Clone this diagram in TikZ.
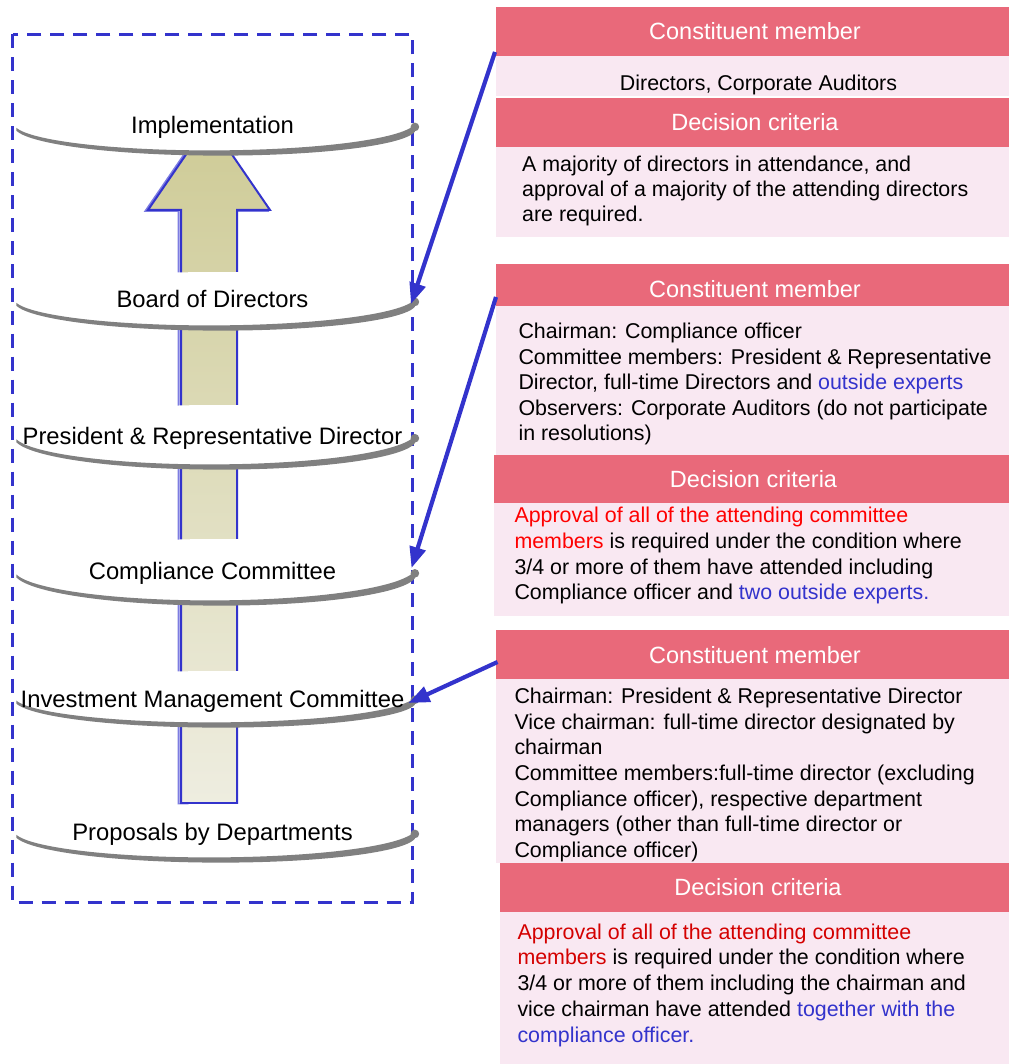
\documentclass[tikz,border=0pt]{standalone}
\usepackage{fontspec}
\setmainfont{Liberation Sans}
\usetikzlibrary{arrows.meta}

\definecolor{hdrpink}{RGB}{233,105,122}
\definecolor{bodypink}{RGB}{249,232,242}
\definecolor{linkblue}{RGB}{51,51,204}
\definecolor{shadowblue}{RGB}{125,125,225}
\definecolor{ringgrey}{RGB}{128,128,128}
\definecolor{arrowtop}{RGB}{206,203,150}
\definecolor{arrowbot}{RGB}{238,237,224}
\definecolor{brightred}{RGB}{255,0,0}
\definecolor{deepred}{RGB}{212,0,0}

\newcommand\stagefont{\fontsize{23.8}{28}\selectfont}
\newcommand\headfont{\fontsize{23.5}{28}\selectfont}
\newcommand\bodyfont{\fontsize{21.4}{25.7}\selectfont}

\begin{document}
\begin{tikzpicture}[x=1pt,y=-1pt,
  hdrtext/.style={anchor=base, text=white, font=\headfont, inner sep=0pt},
  bodyline/.style={anchor=base west, inner sep=0pt, font=\bodyfont},
  bodycentre/.style={anchor=base, inner sep=0pt, font=\bodyfont},
  stagelabel/.style={anchor=base, inner sep=0pt, font=\stagefont},
  conn/.style={draw=linkblue, line width=4.2pt, -{Triangle[length=21pt,width=16pt]}},
  frame/.style={draw=linkblue, line width=3.5pt, dash pattern=on 14pt off 9pt},
]
\useasboundingbox (0,0) rectangle (1009,1064);

% upward flow arrow (shadow outline, then shaded body)
\draw[shadowblue, line width=2pt, xshift=-2.5pt, yshift=-1pt]
  (181,803) -- (181,210) -- (148,210) -- (209,121) -- (270,210) -- (237,210) -- (237,803) -- cycle;
\shadedraw[top color=arrowtop, bottom color=arrowbot, draw=linkblue, line width=2pt]
  (181,803) -- (181,210) -- (148,210) -- (209,121) -- (270,210) -- (237,210) -- (237,803) -- cycle;

% white discs of the stages
\foreach \cy/\rb in {125/28,300/28,436/31,571/32,698/27,832/28}
  \fill[white] (215,\cy) ellipse [x radius=201, y radius=\rb];

% dashed frame round the stages
\draw[frame] (12.7,34.5) rectangle (412.3,902.7);

% grey rims under the discs: thick at the right end, tapering to the left
\foreach \cy/\rb in {125/28,300/28,436/31,571/32,698/27,832/28} {
  \fill[ringgrey]
    plot[domain=6:171, samples=70]
      ({215+201*cos(\x)},{\cy+\rb*sin(\x)+0.5*(7.5-4.5*(\x-6)/165)})
    -- plot[domain=171:6, samples=70]
      ({215+201*cos(\x)},{\cy+\rb*sin(\x)-0.5*(7.5-4.5*(\x-6)/165)}) -- cycle;
  \fill[ringgrey] ({215+201*cos(6)},{\cy+\rb*sin(6)-1}) circle [radius=4.3];
}

% stage labels
\node[stagelabel] (impl)   at (212.5,133.3) {Implementation};
\node[stagelabel] (board)  at (212.5,307.3) {Board of Directors};
\node[stagelabel] (pres)   at (212.5,444)   {President \& Representative Director};
\node[stagelabel] (comp)   at (212.5,579)   {Compliance Committee};
\node[stagelabel] (invest) at (212.5,707.3) {Investment Management Committee};
\node[stagelabel] (prop)   at (212.5,840.7) {Proposals by Departments};

% ---- Board of Directors panel
\fill[hdrpink]  (496,7.3)   rectangle (1009,55.7);
\fill[bodypink] (496,55.7)  rectangle (1009,95.7);
\fill[hdrpink]  (496,98.3)  rectangle (1009,146.7);
\fill[bodypink] (496,146.7) rectangle (1009,236.7);
\node[hdrtext] (h1) at (755,40) {Constituent member};
\node[bodycentre] (b1) at (758.5,90.7) {Directors, Corporate Auditors};
\node[hdrtext] (h2) at (755,130.8) {Decision criteria};
\node[bodyline] (b2a) at (522,171.7) {A majority of directors in attendance, and};
\node[bodyline] (b2b) at (522,196.7) {approval of a majority of the attending directors};
\node[bodyline] (b2c) at (522,221.7) {are required.};

% ---- Compliance Committee panel
\fill[hdrpink]  (496,264.3)   rectangle (1009,306);
\fill[bodypink] (496,306)     rectangle (1009,454.6);
\fill[hdrpink]  (494.3,454.6) rectangle (1009,503.3);
\fill[bodypink] (494.3,503.3) rectangle (1009,615.7);
\node[hdrtext] (h3) at (755,297.4) {Constituent member};
\node[bodyline] (b3a) at (518.3,338.5) {Chairman: Compliance officer};
\node[bodyline] (b3b) at (518.3,364.1) {Committee members: President \& Representative};
\node[bodyline] (b3c) at (518.3,389.7) {Director, full-time Directors and \textcolor{linkblue}{outside experts}};
\node[bodyline] (b3d) at (518.3,415.3) {Observers: Corporate Auditors (do not participate};
\node[bodyline] (b3e) at (518.3,440.9) {in resolutions)};
\node[hdrtext] (h4) at (753.5,487.4) {Decision criteria};
\node[bodyline] (b4a) at (514.3,522.7) {\textcolor{brightred}{Approval of all of the attending committee}};
\node[bodyline] (b4b) at (514.3,548.3) {\textcolor{brightred}{members} is required under the condition where};
\node[bodyline] (b4c) at (514.3,574)   {3/4 or more of them have attended including};
\node[bodyline] (b4d) at (514.3,599.6) {Compliance officer and \textcolor{linkblue}{two outside experts.}};

% ---- Investment Management Committee panel
\fill[hdrpink]  (496,630)   rectangle (1009,679.3);
\fill[bodypink] (496,679.3) rectangle (1009,862.7);
\fill[hdrpink]  (500,862.7) rectangle (1009,911.7);
\fill[bodypink] (500,911.7) rectangle (1009,1064);
\node[hdrtext] (h5) at (755,663.1) {Constituent member};
\node[bodyline] (b5a) at (514.3,703.3) {Chairman: President \& Representative Director};
\node[bodyline] (b5b) at (514.3,729)   {Vice chairman: full-time director designated by};
\node[bodyline] (b5c) at (514.3,754.7) {chairman};
\node[bodyline] (b5d) at (514.3,780.4) {Committee members:full-time director (excluding};
\node[bodyline] (b5e) at (514.3,806.1) {Compliance officer), respective department};
\node[bodyline] (b5f) at (514.3,831.8) {managers (other than full-time director or};
\node[bodyline] (b5g) at (514.3,857.5) {Compliance officer)};
\node[hdrtext] (h6) at (758,895.6) {Decision criteria};
\node[bodyline] (b6a) at (517.3,939)    {\textcolor{deepred}{Approval of all of the attending committee}};
\node[bodyline] (b6b) at (517.3,964.8)  {\textcolor{deepred}{members} is required under the condition where};
\node[bodyline] (b6c) at (517.3,990.6)  {3/4 or more of them including the chairman and};
\node[bodyline] (b6d) at (517.3,1016.4) {vice chairman have attended \textcolor{linkblue}{together with the}};
\node[bodyline] (b6e) at (517.3,1042.2) {\textcolor{linkblue}{compliance officer.}};

% connectors from the panels to the stage rims
\coordinate (src1) at (495,52);
\coordinate (tip1) at (411,304);
\coordinate (src2) at (496,297);
\coordinate (tip2) at (411.5,568);
\coordinate (src3) at (497.5,662);
\coordinate (tip3) at (408.5,703);
\draw[conn] (src1) -- (tip1);
\draw[conn] (src2) -- (tip2);
\draw[conn] (src3) -- (tip3);
\end{tikzpicture}
\end{document}
